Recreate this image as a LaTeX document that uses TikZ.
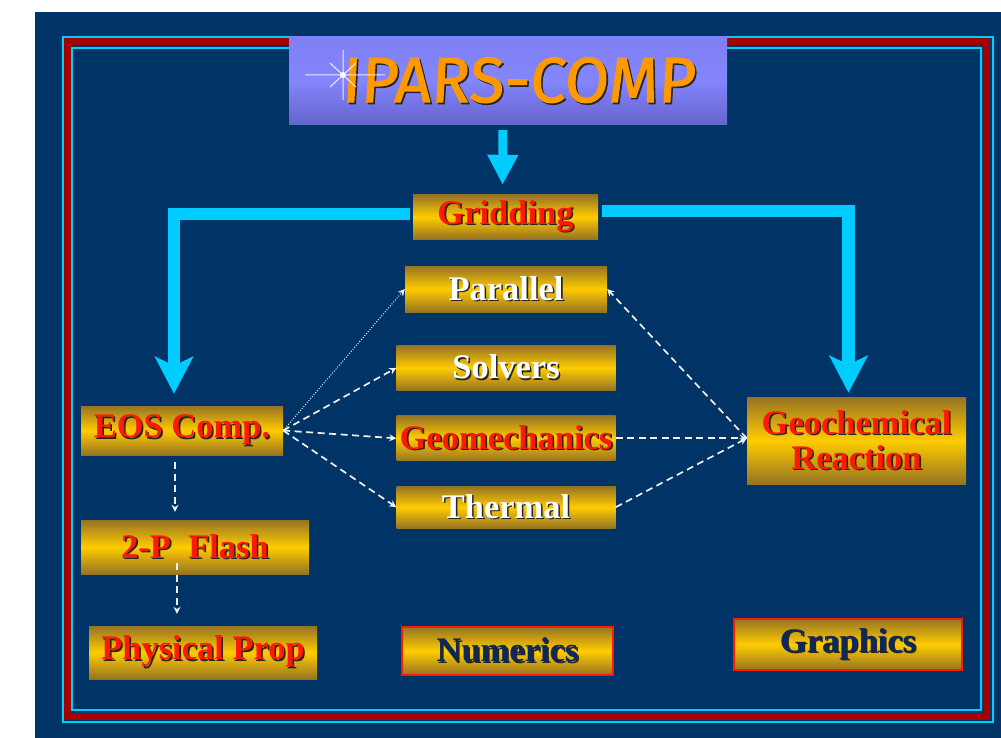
\documentclass[tikz,border=0pt]{standalone}
\usepackage{fontspec}
\setmainfont{Liberation Serif}
\newfontfamily\titlefont[FakeBold=1.5, FakeSlant=0.06]{Fira Sans}
\usetikzlibrary{arrows.meta,positioning}
\definecolor{navy}{RGB}{0,51,102}
\definecolor{pipe}{RGB}{0,204,255}
\definecolor{framered}{RGB}{165,0,0}
\definecolor{goldedge}{RGB}{150,115,35}
\definecolor{goldmid}{RGB}{255,204,0}
\definecolor{lavtop}{RGB}{128,128,245}
\definecolor{lavmid}{RGB}{132,132,252}
\definecolor{lavbottom}{RGB}{100,100,205}
\definecolor{titleorange}{RGB}{255,153,0}
\definecolor{redtext}{RGB}{255,25,0}
\definecolor{darktext}{RGB}{15,40,90}
\newcommand{\shtext}[2]{\makebox[0pt][l]{\kern1.6pt\raisebox{-1.6pt}{\color{black!85}#2}}{\color{#1}#2}}
\tikzset{
  goldbox/.style={top color=goldedge, bottom color=goldedge, middle color=goldmid,
    draw=none, inner sep=0pt, minimum width=#1, minimum height=45pt, align=center,
    font=\bfseries\fontsize{34.5}{36}\selectfont},
  framedbox/.style={goldbox=#1, draw=redtext, line width=1.2pt},
  pipeline/.style={draw=pipe, line width=12.5pt,
    -{Stealth[length=37pt, width=38pt, inset=9pt]}},
  dashlink/.style={draw=white!88!gray, line width=1.7pt, dash pattern=on 7pt off 4.5pt,
    -{Stealth[length=7pt, width=7pt]}},
  dotlink/.style={draw=white!85!gray, line width=1pt, dash pattern=on 1pt off 1.6pt,
    -{Stealth[length=7pt, width=7pt]}}
}
\begin{document}
\begin{tikzpicture}[x=1pt, y=-1pt]
  \useasboundingbox (0,0) rectangle (1001,738);
  \fill[white] (0,0) rectangle (1001,738);
  \fill[navy] (35,12) rectangle (1001,738);
  % frame
  \draw[pipe, line width=1.2pt] (63,37) rectangle (993,722);
  \draw[framered, line width=7pt] (67,41.5) rectangle (986.5,716);
  \draw[pipe, line width=1.2pt] (72,48) rectangle (981,710);
  % title
  \node[top color=lavtop, bottom color=lavbottom, middle color=lavmid,
    minimum width=438pt, minimum height=88pt, inner sep=0pt,
    font=\titlefont\fontsize{64}{64}\selectfont] (title) at (508,81)
    {\kern20pt\raisebox{-5pt}{\shtext{titleorange}{IPARS-COMP}}};
  \draw[white, opacity=.85, line width=1pt] (305,75) -- (385,75) (343,50) -- (343,100)
    (330,63) -- (356,87) (330,87) -- (356,63);
  \fill[white] (343,75) circle (3pt);
  % boxes
  \node[goldbox=185pt, minimum height=44pt] (grid) at (505.5,217) {\shtext{redtext}{Gridding}};
  \node[goldbox=202pt, minimum height=46pt] (par) at (506,289) {\shtext{white}{Parallel}};
  \node[goldbox=219pt, below=33pt of par] (solv) {\shtext{white}{Solvers}};
  \node[goldbox=219pt, below=25pt of solv] (geom) {\shtext{redtext}{Geomechanics}};
  \node[goldbox=219pt, minimum height=42pt, below=25pt of geom] (therm) {\shtext{white}{Thermal}};
  \node[goldbox=202pt, minimum height=49pt] (eos) at (182,430.5) {\shtext{redtext}{EOS Comp.}};
  \node[goldbox=228pt, minimum height=54pt] (flash) at (195,547) {\shtext{redtext}{2-P\ \ Flash}};
  \node[goldbox=228pt, minimum height=53pt] (phys) at (203,652.5) {\shtext{redtext}{Physical Prop}};
  \node[goldbox=219pt, minimum height=87pt] (geo) at (856.5,440.5)
    {\shtext{redtext}{Geochemical}\\[-1pt]\shtext{redtext}{Reaction}};
  \node[framedbox=211pt, minimum height=48pt] (num) at (507.5,651) {\shtext{darktext}{Numerics}};
  \node[framedbox=228pt, minimum height=51pt] (graph) at (848,644.5) {\shtext{darktext}{Graphics}};
  \coordinate (meet) at (geom.east -| geo.west);
  % thick links
  \draw[draw=pipe, line width=9pt, shorten <=5pt, shorten >=10pt,
    -{Triangle[length=30pt, width=29pt]}] ([xshift=-5pt]title.south) -- ([xshift=-3pt]grid.north);
  \draw[pipeline, shorten <=3pt, shorten >=12pt] ([yshift=3pt]grid.west) -| ([xshift=-8pt]eos.north);
  \draw[pipeline, shorten <=4pt, shorten >=4pt] ([yshift=6pt]grid.east) -| ([xshift=-8pt]geo.north);
  % dashed links
  \draw[dotlink] (eos.east) -- (par.west);
  \draw[dashlink] (eos.east) -- (solv.west);
  \draw[dashlink] (eos.east) -- (geom.west);
  \draw[dashlink] (eos.east) -- (therm.west);
  \draw[dashlink] (meet) -- (par.east);
  \draw[dashlink] (geom.east) -- (meet);
  \draw[dashlink] (therm.east) -- (meet);
  \draw[dashlink, shorten <=7pt, shorten >=8pt] ([xshift=-7pt]eos.south) -- ([xshift=-7pt]eos.south |- flash.north);
  \draw[dashlink, shorten >=12pt] ([xshift=-18pt, yshift=11pt]flash.south) -- ([xshift=-18pt]flash.south |- phys.north);
\end{tikzpicture}
\end{document}
